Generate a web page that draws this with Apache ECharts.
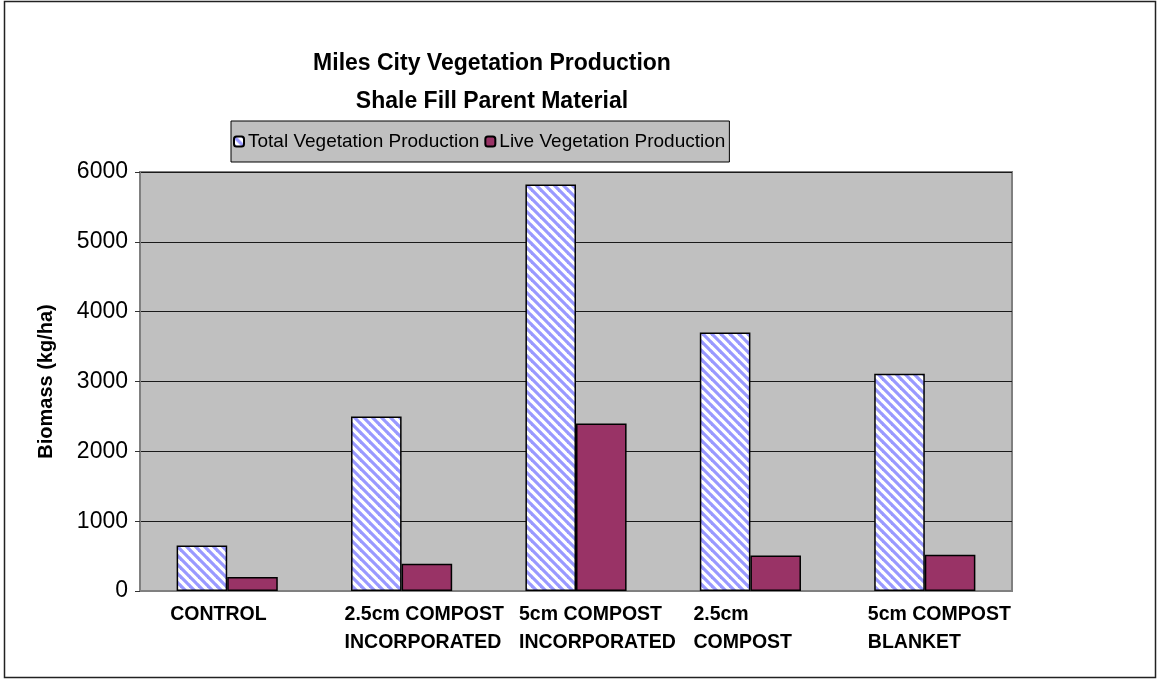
<!DOCTYPE html>
<html>
<head>
<meta charset="utf-8">
<script src="https://cdn.jsdelivr.net/npm/echarts@6/dist/echarts.min.js"></script>
<style>
  html, body { margin: 0; padding: 0; background: #fff; }
  #chart { width: 1160px; height: 680px; }
</style>
</head>
<body>
<div id="chart"></div>
<script>
// categories (x axis), two lines each
const categories = [
  'CONTROL',
  '2.5cm COMPOST\nINCORPORATED',
  '5cm COMPOST\nINCORPORATED',
  '2.5cm\nCOMPOST',
  '5cm COMPOST\nBLANKET'
]
const seriesNames = ['Total Vegetation Production', 'Live Vegetation Production']
const totalProduction = [650, 2500, 5820, 3700, 3110]
const liveProduction = [200, 390, 2400, 510, 520]
const yTicks = { min: 0, max: 6000, interval: 1000 }

// diagonal stripe fill for the total bars
const makeStripes = () => {
  const s = 9
  const c = document.createElement('canvas')
  c.width = s
  c.height = s
  const ctx = c.getContext('2d')
  ctx.fillStyle = '#ffffff'
  ctx.fillRect(0, 0, s, s)
  ctx.strokeStyle = '#9999ff'
  ctx.lineWidth = 3.2
  for (const off of [-s, 0, s]) {
    ctx.beginPath()
    ctx.moveTo(off - 1, -1)
    ctx.lineTo(off + s + 1, s + 1)
    ctx.stroke()
  }
  return c
}

const chart = echarts.init(document.getElementById('chart'))
const font = '"Liberation Sans", Arial, sans-serif'

chart.setOption({
  backgroundColor: '#fff',
  textStyle: { fontFamily: font },
  animation: false,
  graphic: [
    {
      type: 'rect',
      shape: { x: 4.5, y: 1.5, width: 1151, height: 676 },
      style: { fill: 'none', stroke: '#222', lineWidth: 1.5 },
      silent: true
    },
    {
      type: 'text',
      x: 492,
      y: 45,
      style: {
        text: 'Miles City Vegetation Production\nShale Fill Parent Material',
        font: 'bold 23px ' + font,
        fill: '#000',
        align: 'center',
        lineHeight: 38
      }
    }
  ],
  legend: {
    data: seriesNames,
    left: 231,
    top: 121,
    orient: 'horizontal',
    backgroundColor: '#c0c0c0',
    borderColor: '#000',
    borderWidth: 1,
    padding: [11, 4, 11, 2],
    itemWidth: 10,
    itemHeight: 10,
    itemGap: 5,
    textStyle: { fontSize: 19, color: '#000', fontFamily: font, padding: [0, 0, 0, -1] }
  },
  grid: {
    left: 140,
    right: 148,
    top: 172,
    bottom: 89,
    show: true,
    backgroundColor: '#c0c0c0',
    borderColor: '#808080',
    borderWidth: 2,
    containLabel: false
  },
  xAxis: {
    type: 'category',
    data: categories,
    axisLine: { show: true, lineStyle: { color: '#808080', width: 2 } },
    axisTick: { show: false },
    axisLabel: {
      interval: 0,
      color: '#000',
      fontSize: 19.5,
      fontWeight: 'bold',
      lineHeight: 28,
      margin: 10,
      align: 'left',
      padding: [0, 0, 0, -57]
    }
  },
  yAxis: {
    type: 'value',
    min: yTicks.min,
    max: yTicks.max,
    interval: yTicks.interval,
    name: 'Biomass (kg/ha)',
    nameLocation: 'middle',
    nameGap: 84,
    nameTextStyle: { fontSize: 20, fontWeight: 'bold', color: '#000', fontFamily: font },
    axisLine: { show: true, lineStyle: { color: '#808080', width: 2 } },
    axisTick: { show: true, length: 5, lineStyle: { color: '#333' } },
    axisLabel: { color: '#000', fontSize: 23, margin: 12, formatter: v => String(v) },
    splitLine: { show: true, lineStyle: { color: '#1a1a1a', width: 1 } }
  },
  series: [
    {
      name: seriesNames[0],
      type: 'bar',
      data: totalProduction,
      barGap: '0%',
      barCategoryGap: '42%',
      itemStyle: {
        color: { image: makeStripes(), repeat: 'repeat' },
        borderColor: '#000',
        borderWidth: 1.5
      }
    },
    {
      name: seriesNames[1],
      type: 'bar',
      data: liveProduction,
      itemStyle: { color: '#993366', borderColor: '#000', borderWidth: 1.5 }
    }
  ]
})
</script>
</body>
</html>
